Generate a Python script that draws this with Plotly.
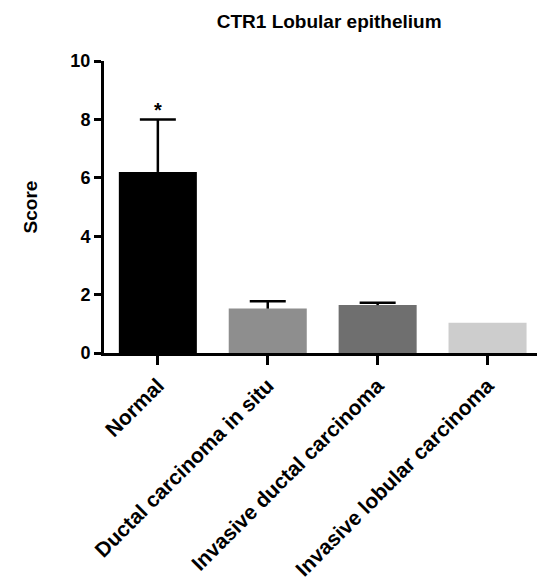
import plotly.graph_objects as go

categories = ["Normal", "Ductal carcinoma in situ", "Invasive ductal carcinoma", "Invasive lobular carcinoma"]
scores = [6.2, 1.52, 1.64, 1.04]
errors_plus = [1.8, 0.25, 0.08, None]
bar_colors = ["#000000", "#8e8e8e", "#6f6f6f", "#cdcdcd"]
y_ticks = [0, 2, 4, 6, 8, 10]

FONT = "Liberation Sans, Arial, sans-serif"

fig = go.Figure()
fig.add_trace(go.Bar(
    x=categories, y=scores,
    marker=dict(color=bar_colors, line=dict(width=0)),
    width=0.71,
))

# upward-only error bars: stems + caps
stem_x, stem_y, cap_x, cap_y = [], [], [], []
for c, s, e in zip(categories, scores, errors_plus):
    if e is None:
        continue
    stem_x += [c, c, None]
    stem_y += [s, s + e, None]
    cap_x.append(c)
    cap_y.append(s + e)
fig.add_trace(go.Scatter(x=stem_x, y=stem_y, mode="lines",
                         line=dict(color="black", width=2.5), hoverinfo="skip"))
fig.add_trace(go.Scatter(x=cap_x, y=cap_y, mode="markers", marker=dict(size=0.1, color="black"),
                         error_y=dict(type="data", array=[0] * len(cap_x), color="black",
                                      thickness=2.5, width=18, visible=True),
                         hoverinfo="skip"))

fig.add_annotation(x=categories[0], y=scores[0] + errors_plus[0], text="*", showarrow=False,
                   yshift=9, font=dict(family=FONT, size=20, color="black", weight="bold"))

fig.update_layout(
    width=537, height=584,
    margin=dict(l=104, r=0, t=61, b=231, autoexpand=False),
    plot_bgcolor="white", paper_bgcolor="white",
    showlegend=False,
    title=dict(text="CTR1 Lobular epithelium", x=0.613, xanchor="center", y=0.963, yanchor="middle",
               font=dict(family=FONT, size=19, color="black", weight="bold")),
)
fig.update_xaxes(
    range=[-0.49, 3.45], showline=True, linewidth=3, linecolor="black",
    ticks="outside", ticklen=9, tickwidth=3, tickcolor="black",
    tickangle=-45, tickfont=dict(family=FONT, size=21, color="black", weight="bold"),
    showgrid=False, zeroline=False, automargin=False,
)
fig.update_yaxes(
    range=[0, 10], tickvals=y_ticks, showline=True, linewidth=3, linecolor="black",
    ticks="outside", ticklen=7, tickwidth=3, tickcolor="black",
    tickfont=dict(family=FONT, size=18, color="black", weight="bold"),
    title=dict(text="Score", font=dict(family=FONT, size=19, color="black", weight="bold"), standoff=28),
    showgrid=False, zeroline=False, automargin=False,
)

fig.write_html("out.html", config={"displayModeBar": False},
               post_script="document.body.style.margin='0';")
